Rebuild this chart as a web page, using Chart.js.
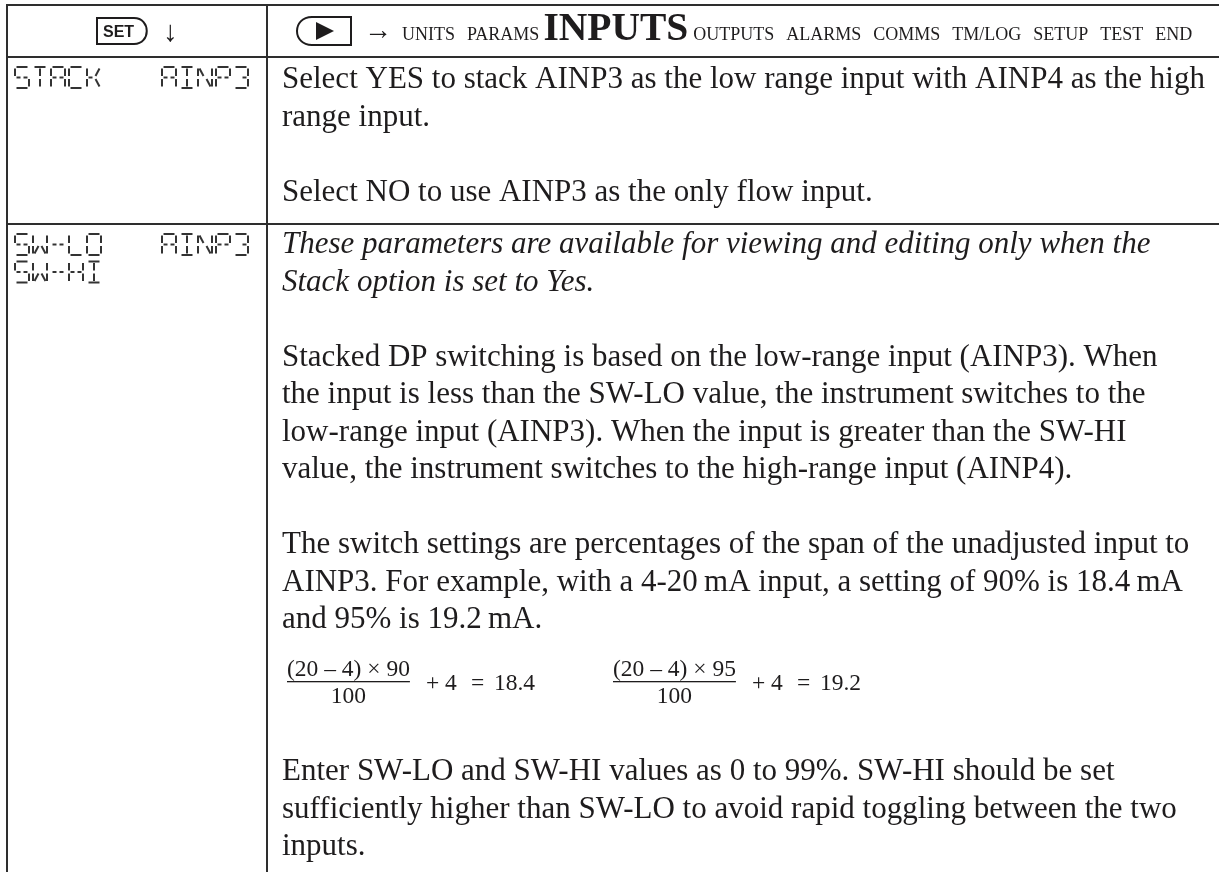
<!DOCTYPE html>
<html>
<head>
<meta charset="utf-8">
<script src="https://cdn.jsdelivr.net/npm/chart.js@4.4.1/dist/chart.umd.min.js"></script>
<style>
  html, body { margin: 0; padding: 0; background: #fff; }
  #wrap { width: 1219px; height: 872px; }
</style>
</head>
<body>
<div id="wrap"><canvas id="chart-table" width="1219" height="872"></canvas></div>
<script>
// Menu line in the header
const menuItems = ['UNITS', 'PARAMS', 'INPUTS', 'OUTPUTS', 'ALARMS', 'COMMS', 'TM/LOG', 'SETUP', 'TEST', 'END'];
const activeItem = 'INPUTS';
const setKeyLabel = 'SET';

// LCD codes shown in the left column, one list per row
const row1Codes = [['STACK', 'AINP3']];
const row2Codes = [['SW-LO', 'AINP3'], ['SW-HI', '']];

// Description text, one block per paragraph
const row1Text = [
    { lines: ['Select YES to stack AINP3 as the low range input with AINP4 as the high',
              'range input.'] },
    { lines: ['Select NO to use AINP3 as the only flow input.'] }
];
const row2Text = [
    { italic: true,
      lines: ['These parameters are available for viewing and editing only when the',
              'Stack option is set to Yes.'] },
    { lines: ['Stacked DP switching is based on the low-range input (AINP3). When',
              'the input is less than the SW-LO value, the instrument switches to the',
              'low-range input (AINP3). When the input is greater than the SW-HI',
              'value, the instrument switches to the high-range input (AINP4).'] },
    { lines: ['The switch settings are percentages of the span of the unadjusted input to',
              'AINP3. For example, with a 4-20\u2009mA input, a setting of 90% is 18.4\u2009mA',
              'and 95% is 19.2\u2009mA.'] },
    { formula: true },
    { lines: ['Enter SW-LO and SW-HI values as 0 to 99%. SW-HI should be set',
              'sufficiently higher than SW-LO to avoid rapid toggling between the two',
              'inputs.'] }
];

// Worked examples
const formulaNumerators = ['(20 \u2013 4) \u00d7 90', '(20 \u2013 4) \u00d7 95'];
const formulaDenominators = ['100', '100'];
const formulaResults = ['18.4', '19.2'];

const INK = '#1e1c1d';
const RULE = '#2e2e2e';
const SERIF = "'Liberation Serif', 'Times New Roman', serif";

// 14 segment LCD glyphs
const segmentMap = {
    'S': ['a', 'f', 'g1', 'g2', 'c', 'd'],
    'T': ['a', 'i', 'l'],
    'A': ['a', 'b', 'c', 'e', 'f', 'g1', 'g2'],
    'C': ['a', 'f', 'e', 'd'],
    'K': ['f', 'e', 'g1', 'j', 'm'],
    'I': ['a', 'd', 'i', 'l'],
    'N': ['f', 'e', 'h', 'm', 'c', 'b'],
    'P': ['a', 'b', 'f', 'e', 'g1', 'g2'],
    '3': ['a', 'b', 'c', 'd', 'g2'],
    'W': ['f', 'e', 'k', 'm', 'c', 'b'],
    '-': ['g1', 'g2'],
    'L': ['f', 'e', 'd'],
    'O': ['a', 'b', 'c', 'd', 'e', 'f'],
    'H': ['f', 'e', 'b', 'c', 'g1', 'g2']
};

function drawLcdText(ctx, str, left, top, px, py) {
    const w = 14, h = 21, pitch = 18, g = 1.5;
    ctx.save();
    ctx.strokeStyle = '#333';
    ctx.lineWidth = 2;
    ctx.lineCap = 'butt';
    for (let n = 0; n < str.length; n++) {
        const segs = segmentMap[str[n]];
        if (!segs) continue;
        const x0 = px(left + n * pitch), x1 = px(left + n * pitch + w), xc = (x0 + x1) / 2;
        const y0 = py(top), y1 = py(top + h), ym = (y0 + y1) / 2;
        const lines = {
            a: [x0 + g, y0, x1 - g, y0],
            b: [x1, y0 + g, x1, ym - g],
            c: [x1, ym + g, x1, y1 - g],
            d: [x0 + g, y1, x1 - g, y1],
            e: [x0, ym + g, x0, y1 - g],
            f: [x0, y0 + g, x0, ym - g],
            g1: [x0 + g, ym, xc - g, ym],
            g2: [xc + g, ym, x1 - g, ym],
            i: [xc, y0 + g, xc, ym - g],
            l: [xc, ym + g, xc, y1 - g],
            h: [x0 + g, y0 + g, xc - g, ym - g],
            j: [x1 - g, y0 + g, xc + g, ym - g],
            k: [xc - g, ym + g, x0 + g, y1 - g],
            m: [xc + g, ym + g, x1 - g, y1 - g]
        };
        segs.forEach(s => {
            const p = lines[s];
            ctx.beginPath();
            ctx.moveTo(p[0], p[1]);
            ctx.lineTo(p[2], p[3]);
            ctx.stroke();
        });
    }
    ctx.restore();
}

// Layout in chart units (the scales map them onto the canvas)
const layout = {
    left: 7, divider: 267, right: 1219,
    top: 5, headBottom: 57, row1Bottom: 224, bottom: 872,
    textX: 282, lineH: 37.5
};

function drawBlocks(ctx, blocks, startY, px, py) {
    let yb = startY;
    blocks.forEach(blk => {
        if (blk.formula) {
            drawFormulas(ctx, yb, px, py);
            yb += 77;
            return;
        }
        ctx.font = (blk.italic ? 'italic ' : '') + '31px ' + SERIF;
        blk.lines.forEach(line => {
            ctx.fillText(line, px(layout.textX), py(yb));
            yb += layout.lineH;
        });
        yb += layout.lineH;
    });
}

function drawFormulas(ctx, denBase, px, py) {
    const starts = [287, 613];
    ctx.font = '23.5px ' + SERIF;
    formulaNumerators.forEach((num, k) => {
        const x0 = starts[k];
        const wNum = ctx.measureText(num).width;
        ctx.textAlign = 'left';
        ctx.fillText(num, px(x0), py(denBase - 27));
        ctx.fillRect(px(x0), py(denBase - 22), wNum, 1.3);
        ctx.textAlign = 'center';
        ctx.fillText(formulaDenominators[k], px(x0) + wNum / 2, py(denBase));
        ctx.textAlign = 'left';
        ctx.fillText('+ 4', px(x0) + wNum + 16, py(denBase - 13));
        ctx.fillText('=', px(x0) + wNum + 61, py(denBase - 13));
        ctx.fillText(formulaResults[k], px(x0) + wNum + 84, py(denBase - 13));
    });
}

const tablePlugin = {
    id: 'manualTable',
    afterDraw(chart) {
        const { ctx, scales: { x, y } } = chart;
        const px = v => x.getPixelForValue(v);
        const py = v => y.getPixelForValue(v);
        ctx.save();

        // rules
        ctx.strokeStyle = RULE;
        ctx.lineWidth = 2;
        ctx.beginPath();
        [layout.top, layout.headBottom, layout.row1Bottom].forEach(v => {
            ctx.moveTo(px(layout.left - 1), py(v));
            ctx.lineTo(px(layout.right), py(v));
        });
        [layout.left, layout.divider].forEach(v => {
            ctx.moveTo(px(v), py(layout.top));
            ctx.lineTo(px(v), py(layout.bottom));
        });
        ctx.stroke();

        // header: SET key and down arrow
        const hc = (layout.top + layout.headBottom) / 2;
        ctx.lineWidth = 2;
        ctx.strokeStyle = INK;
        ctx.beginPath();
        ctx.moveTo(px(97), py(hc - 13));
        ctx.lineTo(px(134), py(hc - 13));
        ctx.bezierCurveTo(px(151), py(hc - 13), px(151), py(hc + 13), px(134), py(hc + 13));
        ctx.lineTo(px(97), py(hc + 13));
        ctx.closePath();
        ctx.stroke();
        ctx.fillStyle = INK;
        ctx.textBaseline = 'alphabetic';
        ctx.font = "bold 16px 'Liberation Sans', Arial, sans-serif";
        ctx.fillText(setKeyLabel, px(103), py(hc + 6));
        ctx.font = '29px ' + SERIF;
        ctx.fillText('\u2193', px(163), py(hc + 10));

        // header: play key, arrow and menu
        ctx.beginPath();
        ctx.moveTo(px(351), py(hc - 14));
        ctx.lineTo(px(312), py(hc - 14));
        ctx.bezierCurveTo(px(292), py(hc - 14), px(292), py(hc + 14), px(312), py(hc + 14));
        ctx.lineTo(px(351), py(hc + 14));
        ctx.closePath();
        ctx.stroke();
        ctx.beginPath();
        ctx.moveTo(px(316), py(hc - 9));
        ctx.lineTo(px(334), py(hc));
        ctx.lineTo(px(316), py(hc + 9));
        ctx.closePath();
        ctx.fill();
        ctx.font = '28px ' + SERIF;
        ctx.fillText('\u2192', px(364), py(hc + 8));

        let mx = 402;
        const menuBase = hc + 9;
        menuItems.forEach(item => {
            const active = item === activeItem;
            ctx.font = active ? 'bold 39.5px ' + SERIF : '18px ' + SERIF;
            ctx.fillText(item, px(mx), py(menuBase));
            let gap = 12;
            if (item === 'PARAMS') gap = 4;
            if (active) gap = 5;
            mx += ctx.measureText(item).width + gap;
        });

        // LCD codes
        [[row1Codes, layout.headBottom], [row2Codes, layout.row1Bottom]].forEach(([codes, rowTop]) => {
            codes.forEach((pair, k) => {
                const top = rowTop + 10 + k * 27.5;
                drawLcdText(ctx, pair[0], 15, top, px, py);
                if (pair[1]) drawLcdText(ctx, pair[1], 162, top, px, py);
            });
        });

        // description text
        ctx.fillStyle = INK;
        drawBlocks(ctx, row1Text, layout.headBottom + 31, px, py);
        drawBlocks(ctx, row2Text, layout.row1Bottom + 29, px, py);
        ctx.restore();
    }
};

new Chart(document.getElementById('chart-table'), {
    type: 'scatter',
    data: { datasets: [{ data: [] }] },
    options: {
        responsive: false,
        animation: false,
        events: [],
        layout: { padding: 0 },
        plugins: {
            legend: { display: false },
            tooltip: { enabled: false }
        },
        scales: {
            x: { type: 'linear', min: 0, max: 1219, display: false },
            y: { type: 'linear', min: 0, max: 872, reverse: true, display: false }
        }
    },
    plugins: [tablePlugin]
});
</script>
</body>
</html>
